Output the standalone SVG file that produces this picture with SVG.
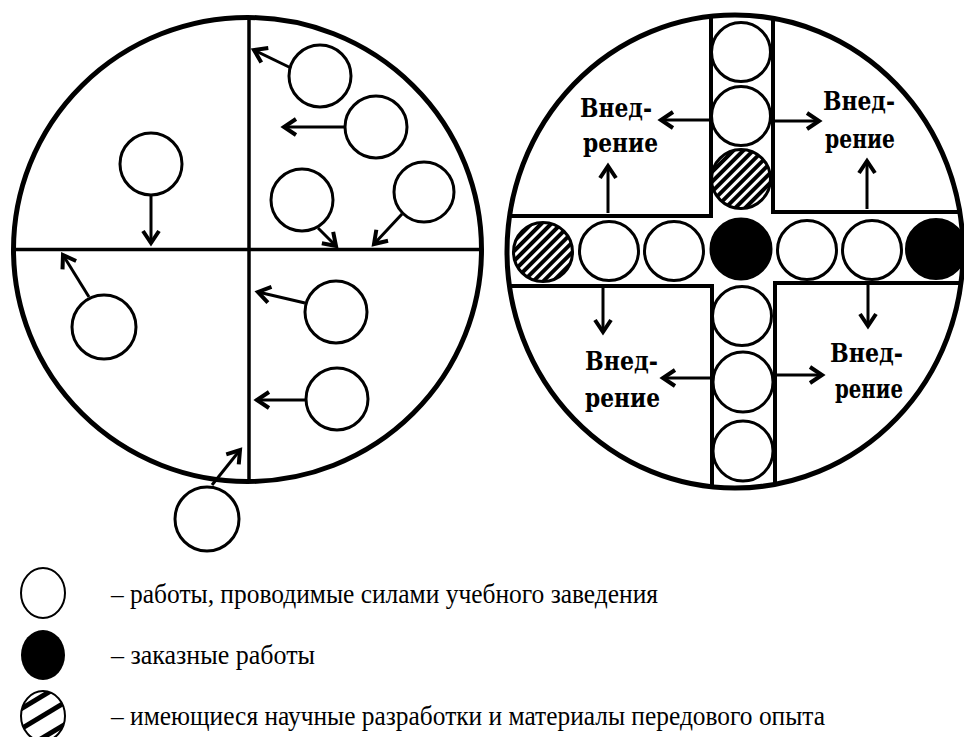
<svg xmlns="http://www.w3.org/2000/svg" width="964" height="737" viewBox="0 0 964 737">
<defs>
<style>
.big{fill:none;stroke:#000;stroke-width:5}
.ln{fill:none;stroke:#000;stroke-width:3.5}
.sc{fill:#fff;stroke:#000;stroke-width:3}
.blk{fill:#000;stroke:#000;stroke-width:2}
.hat{fill:url(#hatch);stroke:#000;stroke-width:3}
.arr{fill:none;stroke:#000;stroke-width:3;marker-end:url(#ah)}
.lbl{font-family:"DejaVu Serif",serif;font-weight:bold;font-size:26px;fill:#000}
.leg{font-family:"Liberation Serif",serif;font-size:28px;fill:#000}
</style>
<marker id="ah" markerUnits="userSpaceOnUse" markerWidth="30" markerHeight="30" refX="0" refY="0" viewBox="-15 -15 30 30" orient="auto" overflow="visible">
<path d="M-12,-8 L0,0 L-12,8" fill="none" stroke="#000" stroke-width="4" stroke-linejoin="miter"/>
</marker>
<pattern id="hatch" patternUnits="userSpaceOnUse" width="7" height="7" patternTransform="rotate(-45)">
<rect x="0" y="0" width="7" height="7" fill="#fff"/>
<rect x="0" y="0" width="7" height="4" fill="#000"/>
</pattern>
<clipPath id="rc"><ellipse cx="735" cy="251.5" rx="228" ry="236.5"/></clipPath>
<clipPath id="lc"><ellipse cx="43" cy="716" rx="22" ry="25"/></clipPath>
</defs>
<rect width="964" height="737" fill="#fff"/>

<g id="left-diagram">
<ellipse class="big" cx="247.5" cy="249.5" rx="234" ry="232"/>
<line class="ln" x1="249" y1="17" x2="249" y2="481"/>
<line class="ln" x1="14" y1="249.5" x2="481" y2="249.5"/>
</g>

<g id="left-nodes">
<g id="l1"><circle class="sc" cx="151" cy="164" r="31"/></g>
<g id="l2"><circle class="sc" cx="320" cy="76" r="31"/></g>
<g id="l3"><circle class="sc" cx="376" cy="127" r="31"/></g>
<g id="l4"><circle class="sc" cx="302" cy="200" r="31"/></g>
<g id="l5"><circle class="sc" cx="424" cy="192" r="30"/></g>
<g id="l6"><circle class="sc" cx="104" cy="327" r="32"/></g>
<g id="l7"><circle class="sc" cx="336" cy="312" r="31"/></g>
<g id="l8"><circle class="sc" cx="337" cy="399" r="31"/></g>
<g id="l9"><circle class="sc" cx="207" cy="519" r="32"/></g>
</g>

<g id="left-connectors">
<line class="arr" x1="151" y1="195" x2="151" y2="243"/>
<line class="arr" x1="291" y1="68" x2="254" y2="50"/>
<line class="arr" x1="345" y1="127" x2="284" y2="127"/>
<line class="arr" x1="318" y1="228" x2="336" y2="246"/>
<line class="arr" x1="402" y1="214" x2="374" y2="244"/>
<line class="arr" x1="89" y1="297" x2="63" y2="255"/>
<line class="arr" x1="305" y1="303" x2="258" y2="292"/>
<line class="arr" x1="306" y1="400" x2="257" y2="400"/>
<line class="arr" x1="212" y1="485" x2="240" y2="450"/>
</g>

<g id="right-diagram">
<ellipse class="big" cx="735" cy="251.5" rx="228" ry="236.5"/>
<g clip-path="url(#rc)">
<polyline class="ln" style="stroke-width:4" points="711,0 711,216 500,216"/>
<polyline class="ln" style="stroke-width:4" points="773,0 773,212 970,212"/>
<polyline class="ln" style="stroke-width:4" points="500,286 712,286 712,500"/>
<polyline class="ln" style="stroke-width:4" points="970,283 775,283 775,500"/>
</g>
</g>

<g id="right-nodes">
<g id="v1"><circle class="sc" cx="741" cy="52" r="29.5"/></g>
<g id="v2"><circle class="sc" cx="741" cy="116" r="29.5"/></g>
<g id="v3"><circle class="hat" cx="741" cy="179" r="29.5"/></g>
<g id="c0"><circle class="blk" cx="741" cy="249" r="30.5"/></g>
<g id="v5"><circle class="sc" cx="742" cy="316" r="29.5"/></g>
<g id="v6"><circle class="sc" cx="743" cy="382" r="30"/></g>
<g id="v7"><circle class="sc" cx="743" cy="451" r="30"/></g>
<g id="h1"><circle class="hat" cx="543" cy="252" r="29.5"/></g>
<g id="h2"><circle class="sc" cx="609" cy="251" r="29.5"/></g>
<g id="h3"><circle class="sc" cx="674" cy="251" r="29.5"/></g>
<g id="h5"><circle class="sc" cx="807" cy="250" r="29.5"/></g>
<g id="h6"><circle class="sc" cx="872" cy="250" r="29.5"/></g>
<g id="h7"><circle class="blk" cx="936" cy="249" r="30"/></g>
<g id="t1"><text class="lbl" x="580" y="117" textLength="72" lengthAdjust="spacingAndGlyphs">Внед-</text><text class="lbl" x="583" y="152" textLength="75" lengthAdjust="spacingAndGlyphs">рение</text></g>
<g id="t2"><text class="lbl" x="823" y="110" textLength="72" lengthAdjust="spacingAndGlyphs">Внед-</text><text class="lbl" x="825" y="148" textLength="70" lengthAdjust="spacingAndGlyphs">рение</text></g>
<g id="t3"><text class="lbl" x="585" y="370" textLength="73" lengthAdjust="spacingAndGlyphs">Внед-</text><text class="lbl" x="585" y="407" textLength="75" lengthAdjust="spacingAndGlyphs">рение</text></g>
<g id="t4"><text class="lbl" x="830" y="362" textLength="73" lengthAdjust="spacingAndGlyphs">Внед-</text><text class="lbl" x="835" y="398" textLength="68" lengthAdjust="spacingAndGlyphs">рение</text></g>
</g>

<g id="right-connectors">
<line class="arr" x1="709" y1="120" x2="661" y2="120"/>
<line class="arr" x1="608" y1="213" x2="608" y2="166"/>
<line class="arr" x1="775" y1="121" x2="819" y2="121"/>
<line class="arr" x1="867" y1="209" x2="867" y2="161"/>
<line class="arr" x1="603" y1="288" x2="603" y2="332"/>
<line class="arr" x1="710" y1="378" x2="663" y2="378"/>
<line class="arr" x1="868" y1="285" x2="868" y2="326"/>
<line class="arr" x1="777" y1="375" x2="822" y2="375"/>
</g>

<g id="legend">
<g id="leg1"><ellipse cx="43" cy="593" rx="22" ry="25" fill="#fff" stroke="#000" stroke-width="2"/><text class="leg" x="111" y="603" textLength="547" lengthAdjust="spacingAndGlyphs">– работы, проводимые силами учебного заведения</text></g>
<g id="leg2"><ellipse cx="43" cy="655" rx="22" ry="25" fill="#000"/><text class="leg" x="111" y="664" textLength="204" lengthAdjust="spacingAndGlyphs">– заказные работы</text></g>
<g id="leg3"><ellipse cx="43" cy="716" rx="22" ry="25" fill="#fff" stroke="#000" stroke-width="2"/>
<g clip-path="url(#lc)" stroke="#000" stroke-width="5">
<line x1="14" y1="713" x2="64" y2="683"/>
<line x1="14" y1="733" x2="74" y2="697"/>
<line x1="29" y1="746" x2="79" y2="716"/>
</g>
<text class="leg" x="111" y="725" textLength="714" lengthAdjust="spacingAndGlyphs">– имеющиеся научные разработки и материалы передового опыта</text></g>
</g>
</svg>
